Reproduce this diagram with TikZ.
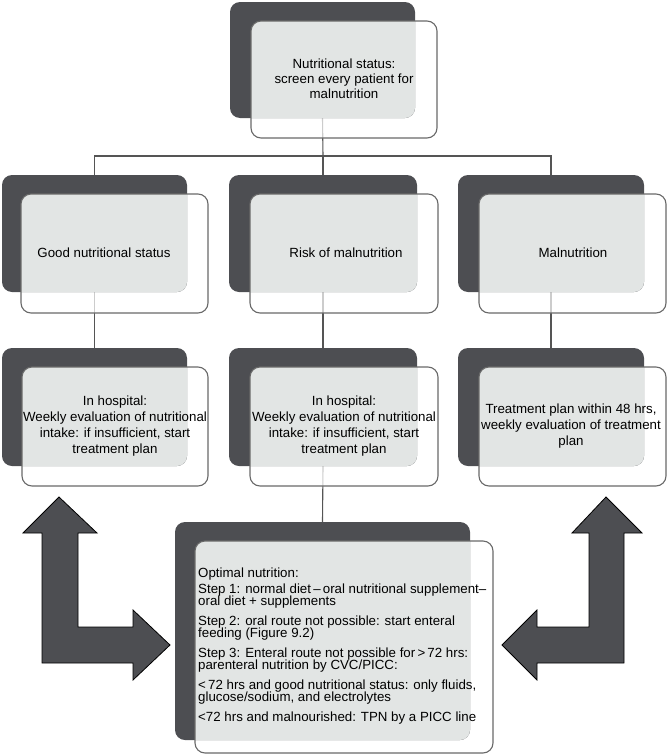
\documentclass[tikz,border=0pt]{standalone}
\usepackage{fontspec}
\setmainfont{Liberation Sans}
\usetikzlibrary{fit,backgrounds}
\definecolor{darkc}{RGB}{77,78,82}
\definecolor{lightc}{RGB}{226,229,228}
\definecolor{borderc}{RGB}{105,105,105}
\definecolor{connc}{RGB}{85,85,85}
\lineskiplimit=-20pt
\tikzset{
  darkbox/.style={inner sep=0pt, fill=darkc, rounded corners=10pt},
  frontbox/.style={inner sep=0pt, draw=borderc, line width=1.1pt, rounded corners=10pt},
  conn/.style={draw=connc, line width=1.1pt},
  lbl/.style={align=center, inner sep=0pt, text=black, font=\fontsize{13.3}{16}\selectfont},
  toplbl/.style={lbl, font=\fontsize{13.3}{15}\selectfont},
  steplbl/.style={align=left, inner sep=0pt, text=black, font=\fontsize{13.3}{12}\selectfont},
  bigarrow/.style={fill=darkc, draw=black, line width=0.8pt, line join=miter},
}
\newcommand{\mkcard}[9]{%
  \fill[white, fill opacity=0.7, rounded corners=10pt] (#6,#7) rectangle (#8,#9);
  \node[darkbox, fit={(#2,#3) (#4,#5)}] (#1d) {};
  \begin{scope}
    \clip[rounded corners=10pt] (#6,#7) rectangle (#8,#9);
    \fill[lightc, rounded corners=10pt] (#2,#3) rectangle (#4,#5);
  \end{scope}
  \node[frontbox, fit={(#6,#7) (#8,#9)}] (#1) {};
}
\begin{document}
\begin{tikzpicture}[x=1pt,y=-1pt]
\useasboundingbox (0,0) rectangle (668,755);

% cards
\mkcard{top}{230}{2}{415}{118}{251}{21}{437}{138}
\mkcard{good}{2}{175}{187}{292}{21}{194}{208}{313}
\mkcard{risk}{229}{175}{417}{292}{250}{194}{438}{313}
\mkcard{mal}{458}{175}{644}{292}{479}{194}{666}{313}
\mkcard{hospa}{2}{348}{187}{466}{22}{367}{208}{486}
\mkcard{hospb}{229}{348}{417}{466}{250}{367}{438}{486}
\mkcard{treat}{458}{348}{644}{466}{479}{367}{666}{486}
\mkcard{opt}{175}{522}{470}{740}{195}{541}{493}{753}

% texts
\node[toplbl] (toptext) at (344,79) {Nutritional status:\\screen every patient for\\malnutrition};
\node[lbl] (goodtext) at (104,253) {Good nutritional status};
\node[lbl] (risktext) at (346,253) {Risk of malnutrition};
\node[lbl] (maltext) at (573,253) {Malnutrition};
\node[lbl] (hospatext) at (115,426) {In hospital:\\Weekly evaluation of nutritional\\intake: if insufficient, start\\treatment plan};
\node[lbl] (hospbtext) at (344,426) {In hospital:\\Weekly evaluation of nutritional\\intake: if insufficient, start\\treatment plan};
\node[lbl] (treattext) at (571,426) {Treatment plan within 48 hrs,\\weekly evaluation of treatment\\plan};
\node[steplbl, anchor=north west] (opttext) at (198,568) {Optimal nutrition:\\[4pt]
Step 1: normal diet\,–\,oral nutritional supplement–\\
oral diet + supplements\\[8pt]
Step 2: oral route not possible: start enteral\\
feeding (Figure 9.2)\\[8pt]
Step 3: Enteral route not possible for\,>\,72 hrs:\\
parenteral nutrition by CVC/PICC:\\[8pt]
<\,72 hrs and good nutritional status: only fluids,\\
glucose/sodium, and electrolytes\\[8pt]
<72 hrs and malnourished: TPN by a PICC line};

% connectors
\begin{pgfonlayer}{background}
  \coordinate (hub) at (323,156);
  \draw[conn] (topd.south) -- (hub);
  \draw[conn] (hub) -| (goodd.north);
  \draw[conn] (hub) -- (riskd.north);
  \draw[conn] (hub) -| (mald.north);
  \draw[conn] (goodd.south) -- (hospad.north);
  \draw[conn] (riskd.south) -- (hospbd.north);
  \draw[conn] (mald.south) -- (treatd.north);
  \draw[conn] (hospbd.south) -- (optd.north);
\end{pgfonlayer}

% big arrows
\draw[bigarrow] (59,497) -- (97,533) -- (78,533) -- (78,627) -- (133,627) -- (133,610) -- (170,645) -- (133,680) -- (133,663) -- (42,663) -- (42,533) -- (23,533) -- cycle;
\draw[bigarrow] (606,497) -- (642,533) -- (624,533) -- (624,663) -- (537,663) -- (537,680) -- (502,645) -- (537,610) -- (537,627) -- (589,627) -- (589,533) -- (572,533) -- cycle;
\end{tikzpicture}
\end{document}
